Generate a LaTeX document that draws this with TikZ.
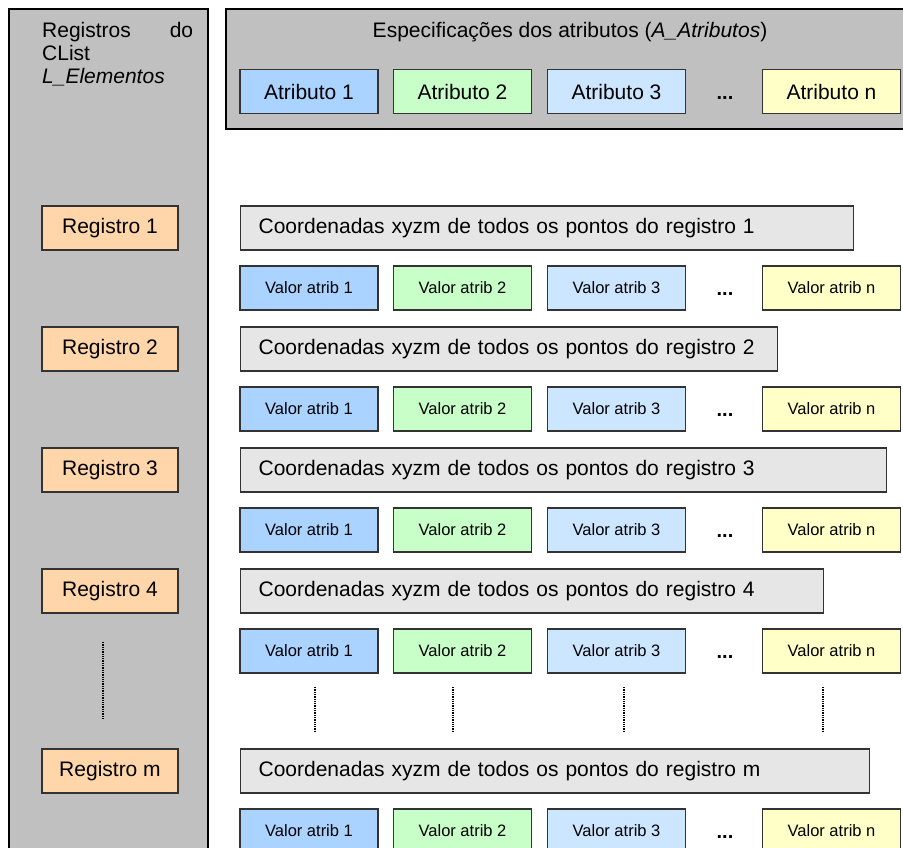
\documentclass[tikz,border=0pt]{standalone}
\usepackage{fontspec}
\setmainfont{Liberation Sans}
\usepackage{tikz}
\usepackage{color}

\definecolor{panelgray}{HTML}{C0C0C0}
\definecolor{atrA}{HTML}{AAD4FF}
\definecolor{atrB}{HTML}{C8FFC8}
\definecolor{atrC}{HTML}{CCE6FF}
\definecolor{atrN}{HTML}{FFFFC8}
\definecolor{regfill}{HTML}{FFD6AA}
\definecolor{coordfill}{HTML}{E6E6E6}
\definecolor{boxline}{HTML}{333333}

\begin{document}
\begin{tikzpicture}[x=1pt,y=1pt,yscale=-1,xscale=1,
  bigfont/.style={font=\fontsize{21}{23}\selectfont},
  smallfont/.style={font=\fontsize{16.5}{19}\selectfont},
  panelbox/.style={draw=black,line width=1.4pt,fill=panelgray},
  cellbox/.style={draw=boxline,line width=1.2pt,inner sep=0pt,minimum width=138pt,minimum height=44pt},
  attrcell/.style={cellbox,bigfont},
  valcell/.style={cellbox,smallfont},
  regcell/.style={cellbox,bigfont,fill=regfill,minimum width=136pt},
  coordcell/.style={draw=boxline,line width=1.2pt,fill=coordfill,bigfont,anchor=west,inner xsep=18pt,inner ysep=0pt,minimum height=44pt,align=left},
  dotsnode/.style={font=\fontsize{20}{24}\selectfont\bfseries,inner sep=1pt},
  vdots/.style={densely dotted,line width=1.3pt}
]
\clip (0,0) rectangle (903,848);

%Shape: Rectangle [left panel]
\draw[panelbox] (9,9) rectangle (208,870);
%Shape: Rectangle [top panel]
\draw[panelbox] (226,9) rectangle (920,129);

% Text Node
\node[font=\fontsize{21}{23}\selectfont,anchor=north west,inner sep=0pt,text width=151pt,align=left] (listtitle) at (42,22) {Registros\hfill do\\CList\\\textit{L\_Elementos}};
% Text Node
\node[bigfont] (spectitle) at (570,32) {Especificações dos atributos (\textit{A\_Atributos})};

% Atributos
\node[attrcell,fill=atrA] (atr1) at (309,91.5) {Atributo 1};
\node[attrcell,fill=atrB] (atr2) at (462.5,91.5) {Atributo 2};
\node[attrcell,fill=atrC] (atr3) at (616.5,91.5) {Atributo 3};
\node[dotsnode] (atrdots) at (725,98) {...};
\node[attrcell,fill=atrN] (atrn) at (831.5,91.5) {Atributo n};

% Registro 1
\node[regcell] (reg1) at (110,228) {Registro 1};
\node[coordcell,text width=577pt] (coord1) at (240,228) {Coordenadas xyzm de todos os pontos do registro 1};
\node[valcell,fill=atrA] (val1a) at (309,288) {Valor atrib 1};
\node[valcell,fill=atrB] (val1b) at (462.5,288) {Valor atrib 2};
\node[valcell,fill=atrC] (val1c) at (616.5,288) {Valor atrib 3};
\node[dotsnode] (dots1) at (725,294) {...};
\node[valcell,fill=atrN] (val1n) at (831.5,288) {Valor atrib n};

% Registro 2
\node[regcell] (reg2) at (110,349) {Registro 2};
\node[coordcell,text width=501pt] (coord2) at (240,349) {Coordenadas xyzm de todos os pontos do registro 2};
\node[valcell,fill=atrA] (val2a) at (309,409) {Valor atrib 1};
\node[valcell,fill=atrB] (val2b) at (462.5,409) {Valor atrib 2};
\node[valcell,fill=atrC] (val2c) at (616.5,409) {Valor atrib 3};
\node[dotsnode] (dots2) at (725,415) {...};
\node[valcell,fill=atrN] (val2n) at (831.5,409) {Valor atrib n};

% Registro 3
\node[regcell] (reg3) at (110,470) {Registro 3};
\node[coordcell,text width=610pt] (coord3) at (240,470) {Coordenadas xyzm de todos os pontos do registro 3};
\node[valcell,fill=atrA] (val3a) at (309,530) {Valor atrib 1};
\node[valcell,fill=atrB] (val3b) at (462.5,530) {Valor atrib 2};
\node[valcell,fill=atrC] (val3c) at (616.5,530) {Valor atrib 3};
\node[dotsnode] (dots3) at (725,536) {...};
\node[valcell,fill=atrN] (val3n) at (831.5,530) {Valor atrib n};

% Registro 4
\node[regcell] (reg4) at (110,591) {Registro 4};
\node[coordcell,text width=547pt] (coord4) at (240,591) {Coordenadas xyzm de todos os pontos do registro 4};
\node[valcell,fill=atrA] (val4a) at (309,651) {Valor atrib 1};
\node[valcell,fill=atrB] (val4b) at (462.5,651) {Valor atrib 2};
\node[valcell,fill=atrC] (val4c) at (616.5,651) {Valor atrib 3};
\node[dotsnode] (dots4) at (725,657) {...};
\node[valcell,fill=atrN] (val4n) at (831.5,651) {Valor atrib n};

%Straight Lines [vertical ellipses]
\draw[vdots] (103,642) -- (103,718);
\draw[vdots] (315,687) -- (315,732);
\draw[vdots] (453,687) -- (453,732);
\draw[vdots] (624,687) -- (624,732);
\draw[vdots] (823,687) -- (823,732);

% Registro m
\node[regcell] (regm) at (110,771) {Registro m};
\node[coordcell,text width=593pt] (coordm) at (240,771) {Coordenadas xyzm de todos os pontos do registro m};
\node[valcell,fill=atrA] (valma) at (309,831) {Valor atrib 1};
\node[valcell,fill=atrB] (valmb) at (462.5,831) {Valor atrib 2};
\node[valcell,fill=atrC] (valmc) at (616.5,831) {Valor atrib 3};
\node[dotsnode] (dotsm) at (725,837) {...};
\node[valcell,fill=atrN] (valmn) at (831.5,831) {Valor atrib n};

\end{tikzpicture}
\end{document}
